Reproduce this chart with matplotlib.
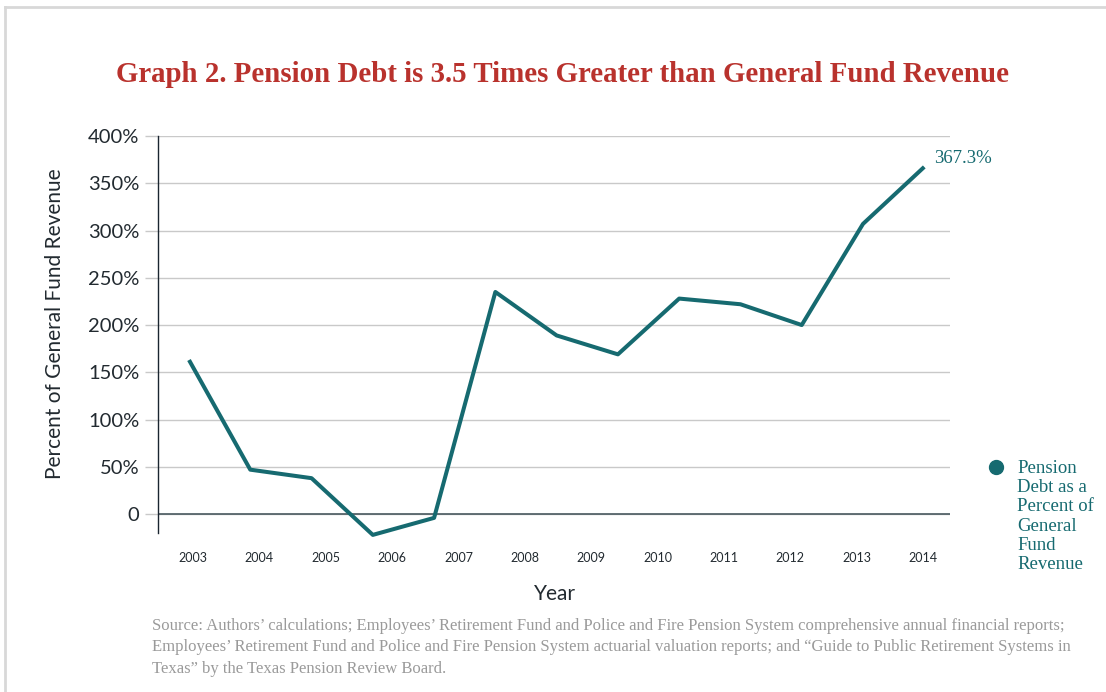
import matplotlib
matplotlib.use("Agg")
import matplotlib.pyplot as plt
from matplotlib.lines import Line2D
import numpy as np

# data (13 points, 12 year labels as in the original)
values = [163, 47, 38, -22, -4, 235, 189, 169, 228, 222, 200, 307, 367.3]
years = ["2003", "2004", "2005", "2006", "2007", "2008", "2009",
         "2010", "2011", "2012", "2013", "2014"]
yticks = [0, 50, 100, 150, 200, 250, 300, 350, 400]
ytick_labels = ["0", "50%", "100%", "150%", "200%", "250%", "300%", "350%", "400%"]

teal = "#166a70"
red = "#b9322d"
grid_c = "#c9c9c9"
serif = ["Liberation Serif", "DejaVu Serif"]
sans = ["Lato", "DejaVu Sans"]

fig = plt.figure(figsize=(11.06, 6.92), dpi=100)
ax = fig.add_axes([158 / 1106, 1 - 533 / 692, 792 / 1106, 397 / 692])

x = np.arange(len(values))
ax.plot(x, values, color=teal, linewidth=2.9, solid_capstyle="butt", clip_on=False, zorder=3)

ax.set_xlim(-0.506, 12.42)
ax.set_ylim(-20, 400)

ax.set_yticks(yticks)
ax.set_yticklabels(ytick_labels, fontfamily=sans, fontsize=14.5, color="#222a30")
ax.tick_params(axis="y", length=9.5, width=1, color=grid_c, pad=4)
ax.grid(axis="y", color=grid_c, linewidth=1)
ax.axhline(0, color="#4a5a60", linewidth=1.2, zorder=2)

xpos = np.linspace(0.065, 11.98, len(years))
ax.set_xticks(xpos)
ax.set_xticklabels(years, fontfamily=sans, fontsize=9, color="#222a30")
ax.tick_params(axis="x", length=0, pad=14)

for s in ["top", "right", "bottom"]:
    ax.spines[s].set_visible(False)
ax.spines["left"].set_color("#1a2530")
ax.spines["left"].set_linewidth(1)

fig.text(55 / 1106, 1 - 324 / 692, "Percent of General Fund Revenue", rotation=90,
         fontfamily=sans, fontsize=15, color="#222a30", ha="center", va="center")
fig.text(555 / 1106, 1 - 594 / 692, "Year", fontfamily=sans, fontsize=15,
         color="#222a30", ha="center", va="center")

ax.annotate("367.3%", xy=(x[-1], values[-1]), xytext=(7, 0), textcoords="offset points",
            fontfamily=serif, fontsize=13.5, color=teal, va="bottom", ha="left")

# title
fig.text(562 / 1106, 1 - 75 / 692, "Graph 2. Pension Debt is 3.5 Times Greater than General Fund Revenue",
         fontfamily=serif, fontsize=20.8, fontweight="bold", color=red, ha="center", va="center")

# legend
fig.add_artist(Line2D([996 / 1106], [1 - 467 / 692], marker="o", markersize=10,
                      color=teal, linestyle="none"))
fig.text(1017 / 1106, 1 - 460 / 692, "Pension\nDebt as a\nPercent of\nGeneral\nFund\nRevenue",
         fontfamily=serif, fontsize=13.5, color=teal, ha="left", va="top", linespacing=1.17)

# source
fig.text(152 / 1106, 1 - 618 / 692,
         "Source: Authors\u2019 calculations; Employees\u2019 Retirement Fund and Police and Fire Pension System comprehensive annual financial reports;\n"
         "Employees\u2019 Retirement Fund and Police and Fire Pension System actuarial valuation reports; and \u201cGuide to Public Retirement Systems in\n"
         "Texas\u201d by the Texas Pension Review Board.",
         fontfamily=serif, fontsize=12, color="#9a9a9a", ha="left", va="top", linespacing=1.45)

# frame lines
fig.add_artist(Line2D([5 / 1106, 5 / 1106], [0, 1 - 7 / 692], color="#d8d8d8", linewidth=2))
fig.add_artist(Line2D([5 / 1106, 1], [1 - 7 / 692, 1 - 7 / 692], color="#d8d8d8", linewidth=2))

fig.savefig("out.png", dpi=100)
